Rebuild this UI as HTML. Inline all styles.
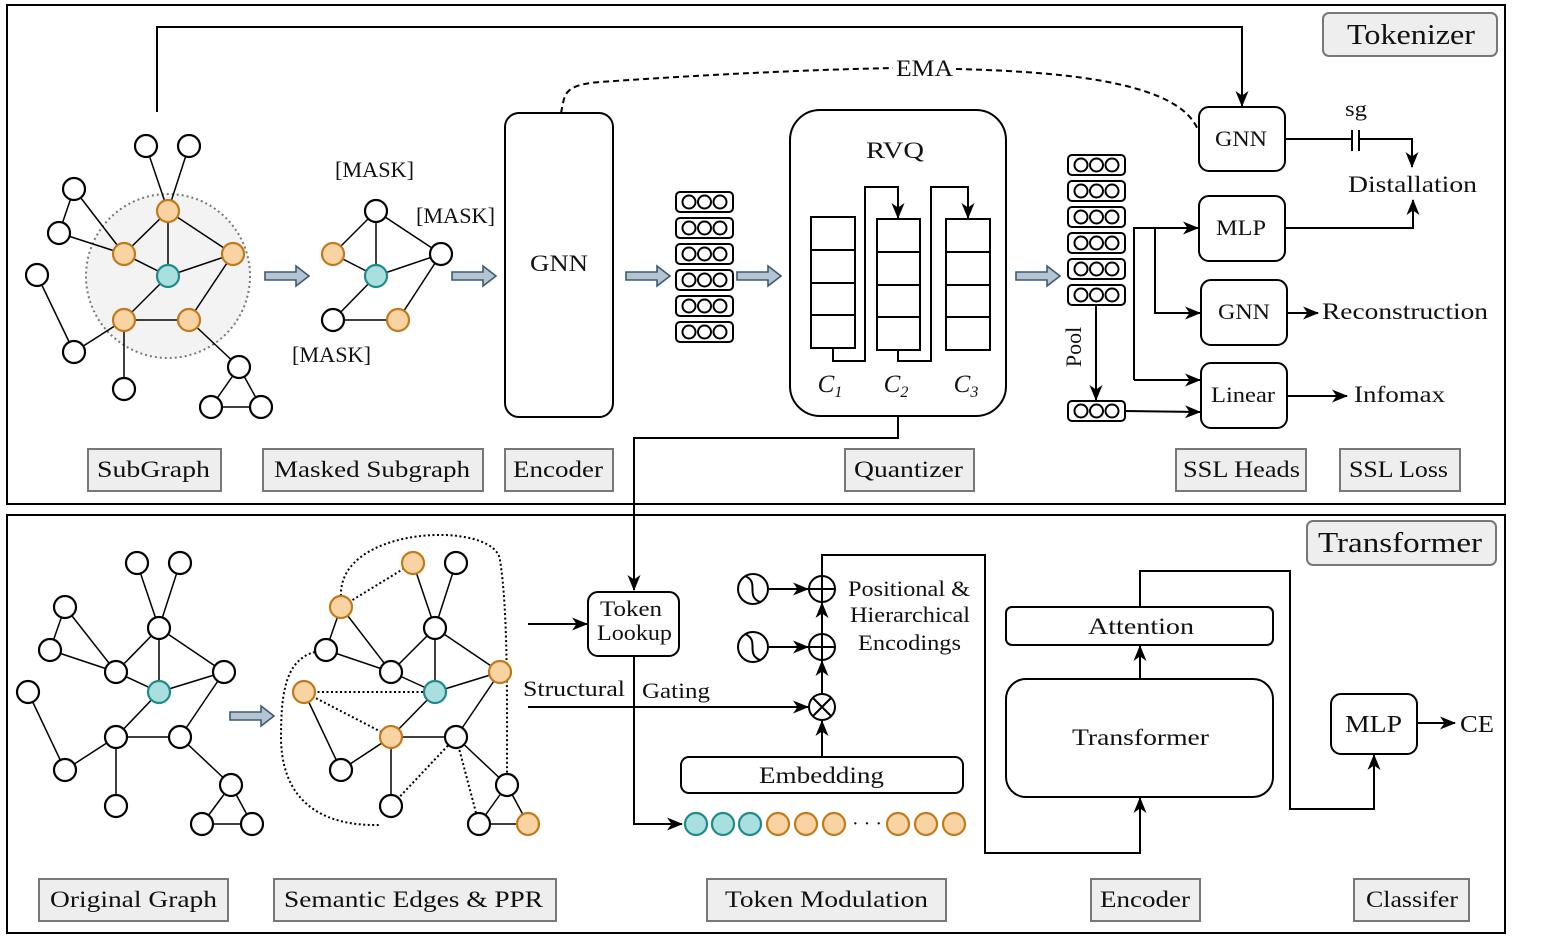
<!DOCTYPE html>
<html><head><meta charset="utf-8"><style>
html,body{margin:0;padding:0;background:#fff;}
svg{display:block;}
text{font-family:"Liberation Serif",serif;fill:#111;}
</style></head><body>
<svg width="1550" height="940" viewBox="0 0 1550 940" xmlns="http://www.w3.org/2000/svg">
<defs>
<marker id="ah" markerWidth="16" markerHeight="13" refX="15" refY="6.5" orient="auto" markerUnits="userSpaceOnUse">
<path d="M0,0 L16,6.5 L0,13 L4.5,6.5 Z" fill="#000"/></marker>
<path id="ha" d="M0,-4 L31,-4 L31,-10 L44,0 L31,10 L31,4 L0,4 Z" fill="#b3c5d3" stroke="#3d5a70" stroke-width="1.6"/>
<g id="vec"><rect x="0" y="0" width="57" height="20" rx="4" fill="#fff" stroke="#000" stroke-width="2"/>
<circle cx="13" cy="10" r="6.5" fill="none" stroke="#000" stroke-width="2"/><circle cx="28.5" cy="10" r="6.5" fill="none" stroke="#000" stroke-width="2"/><circle cx="44" cy="10" r="6.5" fill="none" stroke="#000" stroke-width="2"/></g>
</defs>

<rect x="7" y="5" width="1498" height="499" fill="none" stroke="#000" stroke-width="2"/>
<rect x="7" y="515" width="1498" height="418" fill="none" stroke="#000" stroke-width="2"/>

<rect x="1323" y="13" width="174" height="43" rx="6" fill="#eee" stroke="#777" stroke-width="2"/>
<text x="1347" y="44" font-size="28" textLength="128" lengthAdjust="spacingAndGlyphs">Tokenizer</text>

<path d="M157,112 L157,27 L1242,27 L1242,106" fill="none" stroke="#000" stroke-width="2" marker-end="url(#ah)"/>
<path d="M561,113 C565,95 562,85 600,82 C700,75 800,70 893,68 M956,69 C1080,72 1180,85 1198,130" fill="none" stroke="#000" stroke-width="2" stroke-dasharray="6,4"/>
<text x="896" y="76" font-size="23" textLength="57" lengthAdjust="spacingAndGlyphs">EMA</text>

<circle cx="168" cy="276" r="82" fill="#f3f3f3" stroke="#777" stroke-width="2" stroke-dasharray="2,3"/>
<g stroke="#000" stroke-width="1.5">
<line x1="146" y1="146" x2="168" y2="211"/><line x1="189" y1="146" x2="168" y2="211"/>
<line x1="74" y1="189" x2="59" y2="233"/><line x1="74" y1="189" x2="124" y2="254"/><line x1="59" y1="233" x2="124" y2="254"/>
<line x1="168" y1="211" x2="124" y2="254"/><line x1="168" y1="211" x2="168" y2="276"/><line x1="168" y1="211" x2="233" y2="254"/>
<line x1="124" y1="254" x2="168" y2="276"/><line x1="168" y1="276" x2="233" y2="254"/><line x1="168" y1="276" x2="124" y2="320"/>
<line x1="233" y1="254" x2="189" y2="320"/><line x1="124" y1="320" x2="189" y2="320"/>
<line x1="37" y1="275" x2="74" y2="352"/><line x1="74" y1="352" x2="124" y2="320"/><line x1="124" y1="320" x2="124" y2="389"/>
<line x1="189" y1="320" x2="239" y2="367"/><line x1="239" y1="367" x2="211" y2="407"/><line x1="239" y1="367" x2="261" y2="407"/><line x1="211" y1="407" x2="261" y2="407"/>
</g>
<g stroke="#000" stroke-width="2.2" fill="#fff">
<circle cx="146" cy="146" r="11"/><circle cx="189" cy="146" r="11"/><circle cx="74" cy="189" r="11"/><circle cx="59" cy="233" r="11"/>
<circle cx="37" cy="275" r="11"/><circle cx="74" cy="352" r="11"/><circle cx="124" cy="389" r="11"/><circle cx="239" cy="367" r="11"/>
<circle cx="211" cy="407" r="11"/><circle cx="261" cy="407" r="11"/>
</g>
<g stroke="#c07a1a" stroke-width="2.2" fill="#f9d3a3">
<circle cx="168" cy="211" r="11"/><circle cx="124" cy="254" r="11"/><circle cx="233" cy="254" r="11"/><circle cx="124" cy="320" r="11"/><circle cx="189" cy="320" r="11"/>
</g>
<circle cx="168" cy="276" r="11" fill="#a9dfdf" stroke="#1f8a8a" stroke-width="2.2"/>

<use href="#ha" transform="translate(265,276)"/>

<g stroke="#000" stroke-width="1.5">
<line x1="376" y1="211" x2="333" y2="254"/><line x1="376" y1="211" x2="376" y2="276"/><line x1="376" y1="211" x2="441" y2="254"/>
<line x1="333" y1="254" x2="376" y2="276"/><line x1="376" y1="276" x2="441" y2="254"/><line x1="376" y1="276" x2="333" y2="320"/>
<line x1="333" y1="320" x2="398" y2="320"/><line x1="398" y1="320" x2="441" y2="254"/>
</g>
<g stroke="#000" stroke-width="2.2" fill="#fff"><circle cx="376" cy="211" r="11"/><circle cx="441" cy="254" r="11"/><circle cx="333" cy="320" r="11"/></g>
<g stroke="#c07a1a" stroke-width="2.2" fill="#f9d3a3"><circle cx="333" cy="254" r="11"/><circle cx="398" cy="320" r="11"/></g>
<circle cx="376" cy="276" r="11" fill="#a9dfdf" stroke="#1f8a8a" stroke-width="2.2"/>
<text x="335" y="177" font-size="22" textLength="79" lengthAdjust="spacingAndGlyphs">[MASK]</text>
<text x="416" y="223" font-size="22" textLength="79" lengthAdjust="spacingAndGlyphs">[MASK]</text>
<text x="292" y="362" font-size="22" textLength="79" lengthAdjust="spacingAndGlyphs">[MASK]</text>

<use href="#ha" transform="translate(452,276)"/>

<rect x="505" y="113" width="108" height="304" rx="14" fill="#fff" stroke="#000" stroke-width="2"/>
<text x="530" y="271" font-size="23" textLength="58" lengthAdjust="spacingAndGlyphs">GNN</text>

<use href="#ha" transform="translate(626,276)"/>
<use href="#vec" x="676" y="192"/><use href="#vec" x="676" y="218"/><use href="#vec" x="676" y="244"/>
<use href="#vec" x="676" y="270"/><use href="#vec" x="676" y="296"/><use href="#vec" x="676" y="322"/>
<use href="#ha" transform="translate(737,276)"/>

<rect x="790" y="110" width="216" height="306" rx="30" fill="#fff" stroke="#000" stroke-width="2"/>
<text x="866" y="158" font-size="23" textLength="58" lengthAdjust="spacingAndGlyphs">RVQ</text>
<g fill="none" stroke="#000" stroke-width="2">
<rect x="811" y="217" width="44" height="131"/><line x1="811" y1="250" x2="855" y2="250"/><line x1="811" y1="283" x2="855" y2="283"/><line x1="811" y1="315" x2="855" y2="315"/>
<rect x="877" y="219" width="43" height="131"/><line x1="877" y1="252" x2="920" y2="252"/><line x1="877" y1="285" x2="920" y2="285"/><line x1="877" y1="317" x2="920" y2="317"/>
<rect x="946" y="219" width="44" height="131"/><line x1="946" y1="252" x2="990" y2="252"/><line x1="946" y1="285" x2="990" y2="285"/><line x1="946" y1="317" x2="990" y2="317"/>
<path d="M833,348 L833,361 L865,361 L865,187 L898,187 L898,218" marker-end="url(#ah)"/>
<path d="M898,350 L898,361 L931,361 L931,187 L968,187 L968,218" marker-end="url(#ah)"/>
</g>
<text x="830" y="392" font-size="25" font-style="italic" text-anchor="middle">C<tspan font-size="16" dy="5">1</tspan></text>
<text x="896" y="392" font-size="25" font-style="italic" text-anchor="middle">C<tspan font-size="16" dy="5">2</tspan></text>
<text x="966" y="392" font-size="25" font-style="italic" text-anchor="middle">C<tspan font-size="16" dy="5">3</tspan></text>
<path d="M898,416 L898,438 L634,438 L634,590" fill="none" stroke="#000" stroke-width="2" marker-end="url(#ah)"/>

<use href="#ha" transform="translate(1016,276)"/>
<use href="#vec" x="1068" y="155"/><use href="#vec" x="1068" y="181"/><use href="#vec" x="1068" y="207"/>
<use href="#vec" x="1068" y="233"/><use href="#vec" x="1068" y="259"/><use href="#vec" x="1068" y="285"/>
<use href="#vec" x="1068" y="401"/>
<path d="M1096,305 L1096,400" fill="none" stroke="#000" stroke-width="2" marker-end="url(#ah)"/>
<text x="0" y="0" font-size="22" text-anchor="middle" transform="translate(1081,347) rotate(-90)">Pool</text>

<g fill="#fff" stroke="#000" stroke-width="2">
<rect x="1199" y="107" width="86" height="64" rx="10"/>
<rect x="1199" y="196" width="86" height="65" rx="10"/>
<rect x="1201" y="280" width="86" height="65" rx="10"/>
<rect x="1201" y="363" width="86" height="65" rx="10"/>
</g>
<text x="1215" y="146" font-size="22" textLength="52" lengthAdjust="spacingAndGlyphs">GNN</text>
<text x="1216" y="235" font-size="22" textLength="50" lengthAdjust="spacingAndGlyphs">MLP</text>
<text x="1218" y="319" font-size="22" textLength="52" lengthAdjust="spacingAndGlyphs">GNN</text>
<text x="1211" y="402" font-size="22" textLength="64" lengthAdjust="spacingAndGlyphs">Linear</text>
<g fill="none" stroke="#000" stroke-width="2">
<path d="M1285,139 L1352,139 M1359,139 L1412,139 L1412,167" marker-end="url(#ah)"/>
<line x1="1352" y1="130" x2="1352" y2="151"/><line x1="1359" y1="130" x2="1359" y2="151"/>
<path d="M1285,228 L1413,228 L1413,200" marker-end="url(#ah)"/>
<path d="M1134,380 L1134,228 L1198,228" marker-end="url(#ah)"/>
<path d="M1155,228 L1155,313 L1200,313" marker-end="url(#ah)"/>
<path d="M1134,380 L1200,380" marker-end="url(#ah)"/>
<path d="M1125,411 L1200,412" marker-end="url(#ah)"/>
<path d="M1287,313 L1318,313" marker-end="url(#ah)"/>
<path d="M1287,396 L1347,396" marker-end="url(#ah)"/>
</g>
<text x="1345" y="116" font-size="22" textLength="22" lengthAdjust="spacingAndGlyphs">sg</text>
<text x="1348" y="192" font-size="23" textLength="129" lengthAdjust="spacingAndGlyphs">Distallation</text>
<text x="1322" y="319" font-size="23" textLength="166" lengthAdjust="spacingAndGlyphs">Reconstruction</text>
<text x="1354" y="402" font-size="23" textLength="91" lengthAdjust="spacingAndGlyphs">Infomax</text>

<g fill="#eee" stroke="#777" stroke-width="2">
<rect x="88" y="449" width="133" height="42"/><rect x="263" y="449" width="220" height="42"/>
<rect x="505" y="449" width="108" height="42"/><rect x="845" y="449" width="129" height="42"/>
<rect x="1176" y="449" width="130" height="42"/><rect x="1340" y="449" width="120" height="42"/>
</g>
<g font-size="23">
<text x="97" y="477" textLength="113" lengthAdjust="spacingAndGlyphs">SubGraph</text>
<text x="274" y="477" textLength="196" lengthAdjust="spacingAndGlyphs">Masked Subgraph</text>
<text x="513" y="477" textLength="90" lengthAdjust="spacingAndGlyphs">Encoder</text>
<text x="854" y="477" textLength="109" lengthAdjust="spacingAndGlyphs">Quantizer</text>
<text x="1183" y="477" textLength="117" lengthAdjust="spacingAndGlyphs">SSL Heads</text>
<text x="1349" y="477" textLength="99" lengthAdjust="spacingAndGlyphs">SSL Loss</text>
</g>

<rect x="1307" y="521" width="189" height="44" rx="6" fill="#eee" stroke="#777" stroke-width="2"/>
<text x="1318" y="552" font-size="28" textLength="164" lengthAdjust="spacingAndGlyphs">Transformer</text>

<g stroke="#000" stroke-width="1.5">
<line x1="137" y1="563" x2="159" y2="628"/><line x1="180" y1="563" x2="159" y2="628"/>
<line x1="65" y1="607" x2="50" y2="650"/><line x1="65" y1="607" x2="116" y2="672"/><line x1="50" y1="650" x2="116" y2="672"/>
<line x1="159" y1="628" x2="116" y2="672"/><line x1="159" y1="628" x2="159" y2="692"/><line x1="159" y1="628" x2="224" y2="672"/>
<line x1="116" y1="672" x2="159" y2="692"/><line x1="159" y1="692" x2="224" y2="672"/><line x1="159" y1="692" x2="116" y2="737"/>
<line x1="116" y1="737" x2="180" y2="737"/><line x1="180" y1="737" x2="224" y2="672"/>
<line x1="28" y1="692" x2="65" y2="770"/><line x1="65" y1="770" x2="116" y2="737"/><line x1="116" y1="737" x2="116" y2="806"/>
<line x1="180" y1="737" x2="231" y2="785"/><line x1="231" y1="785" x2="202" y2="824"/><line x1="231" y1="785" x2="252" y2="824"/><line x1="202" y1="824" x2="252" y2="824"/>
</g>
<g stroke="#000" stroke-width="2.2" fill="#fff">
<circle cx="137" cy="563" r="11"/><circle cx="180" cy="563" r="11"/><circle cx="65" cy="607" r="11"/><circle cx="50" cy="650" r="11"/>
<circle cx="159" cy="628" r="11"/><circle cx="116" cy="672" r="11"/><circle cx="224" cy="672" r="11"/><circle cx="28" cy="692" r="11"/>
<circle cx="116" cy="737" r="11"/><circle cx="180" cy="737" r="11"/><circle cx="65" cy="770" r="11"/><circle cx="116" cy="806" r="11"/>
<circle cx="231" cy="785" r="11"/><circle cx="202" cy="824" r="11"/><circle cx="252" cy="824" r="11"/>
</g>
<circle cx="159" cy="692" r="11" fill="#a9dfdf" stroke="#1f8a8a" stroke-width="2.2"/>

<use href="#ha" transform="translate(230,716)"/>

<g fill="none" stroke="#000" stroke-width="2" stroke-dasharray="2,2.5">
<path d="M341,596 C338,525 495,520 500,560 C508,610 507,700 507,773"/>
<path d="M315,652 C283,660 281,700 281,740 C283,815 340,826 380,825"/>
<line x1="341" y1="607" x2="413" y2="563"/>
<line x1="304" y1="692" x2="435" y2="692"/>
<line x1="304" y1="692" x2="391" y2="737"/>
<line x1="391" y1="806" x2="456" y2="737"/>
<line x1="456" y1="737" x2="479" y2="824"/>
</g>
<g stroke="#000" stroke-width="1.5">
<line x1="413" y1="563" x2="435" y2="628"/><line x1="456" y1="563" x2="435" y2="628"/>
<line x1="341" y1="607" x2="326" y2="650"/><line x1="341" y1="607" x2="391" y2="672"/><line x1="326" y1="650" x2="391" y2="672"/>
<line x1="435" y1="628" x2="391" y2="672"/><line x1="435" y1="628" x2="435" y2="692"/><line x1="435" y1="628" x2="500" y2="672"/>
<line x1="391" y1="672" x2="435" y2="692"/><line x1="435" y1="692" x2="500" y2="672"/><line x1="435" y1="692" x2="391" y2="737"/>
<line x1="391" y1="737" x2="456" y2="737"/><line x1="456" y1="737" x2="500" y2="672"/>
<line x1="304" y1="692" x2="341" y2="770"/><line x1="341" y1="770" x2="391" y2="737"/><line x1="391" y1="737" x2="391" y2="806"/>
<line x1="456" y1="737" x2="507" y2="785"/><line x1="507" y1="785" x2="479" y2="824"/><line x1="507" y1="785" x2="528" y2="824"/><line x1="479" y1="824" x2="528" y2="824"/>
</g>
<g stroke="#000" stroke-width="2.2" fill="#fff">
<circle cx="456" cy="563" r="11"/><circle cx="326" cy="650" r="11"/><circle cx="435" cy="628" r="11"/><circle cx="391" cy="672" r="11"/>
<circle cx="456" cy="737" r="11"/><circle cx="341" cy="770" r="11"/><circle cx="391" cy="806" r="11"/><circle cx="507" cy="785" r="11"/><circle cx="479" cy="824" r="11"/>
</g>
<g stroke="#c07a1a" stroke-width="2.2" fill="#f9d3a3">
<circle cx="413" cy="563" r="11"/><circle cx="341" cy="607" r="11"/><circle cx="500" cy="672" r="11"/><circle cx="304" cy="692" r="11"/>
<circle cx="391" cy="737" r="11"/><circle cx="528" cy="824" r="11"/>
</g>
<circle cx="435" cy="692" r="11" fill="#a9dfdf" stroke="#1f8a8a" stroke-width="2.2"/>

<rect x="588" y="592" width="91" height="64" rx="10" fill="#fff" stroke="#000" stroke-width="2"/>
<text x="600" y="616" font-size="22" textLength="62" lengthAdjust="spacingAndGlyphs">Token</text>
<text x="597" y="640" font-size="22" textLength="75" lengthAdjust="spacingAndGlyphs">Lookup</text>
<g fill="none" stroke="#000" stroke-width="2">
<path d="M528,624 L587,624" marker-end="url(#ah)"/>
<path d="M634,656 L634,824 L682,824" marker-end="url(#ah)"/>
<path d="M528,707 L808,707" marker-end="url(#ah)"/>
<path d="M769,589 L808,589" marker-end="url(#ah)"/>
<path d="M769,647 L808,647" marker-end="url(#ah)"/>
<path d="M822,694 L822,661" marker-end="url(#ah)"/>
<path d="M822,634 L822,603" marker-end="url(#ah)"/>
<path d="M822,757 L822,721" marker-end="url(#ah)"/>
<circle cx="753" cy="589" r="15"/><circle cx="753" cy="647" r="15"/>
<path d="M745,576 C760,582 745,596 760,602"/><path d="M745,634 C760,640 745,654 760,660"/>
<circle cx="822" cy="589" r="13"/><line x1="809" y1="589" x2="835" y2="589"/><line x1="822" y1="576" x2="822" y2="602"/>
<circle cx="822" cy="647" r="13"/><line x1="809" y1="647" x2="835" y2="647"/><line x1="822" y1="634" x2="822" y2="660"/>
<circle cx="822" cy="707" r="13"/><line x1="813" y1="698" x2="831" y2="716"/><line x1="831" y1="698" x2="813" y2="716"/>
<path d="M822,576 L822,555 L985,555 L985,853 L1140,853 L1140,798" marker-end="url(#ah)"/>
</g>
<text x="523" y="696" font-size="22" textLength="102" lengthAdjust="spacingAndGlyphs">Structural</text>
<text x="642" y="698" font-size="22" textLength="68" lengthAdjust="spacingAndGlyphs">Gating</text>
<text x="848" y="596" font-size="22" textLength="122" lengthAdjust="spacingAndGlyphs">Positional &amp;</text>
<text x="850" y="622" font-size="22" textLength="120" lengthAdjust="spacingAndGlyphs">Hierarchical</text>
<text x="858" y="650" font-size="22" textLength="103" lengthAdjust="spacingAndGlyphs">Encodings</text>
<rect x="681" y="757" width="282" height="36" rx="8" fill="#fff" stroke="#000" stroke-width="2"/>
<text x="759" y="783" font-size="23" textLength="125" lengthAdjust="spacingAndGlyphs">Embedding</text>
<g stroke="#1f8a8a" stroke-width="2.2" fill="#a9dfdf"><circle cx="696" cy="824" r="11"/><circle cx="723" cy="824" r="11"/><circle cx="750" cy="824" r="11"/></g>
<g stroke="#c07a1a" stroke-width="2.2" fill="#f9d3a3"><circle cx="778" cy="824" r="11"/><circle cx="806" cy="824" r="11"/><circle cx="834" cy="824" r="11"/>
<circle cx="898" cy="824" r="11"/><circle cx="926" cy="824" r="11"/><circle cx="954" cy="824" r="11"/></g>
<text x="867" y="830" font-size="20" text-anchor="middle">· · ·</text>

<rect x="1006" y="607" width="267" height="38" rx="6" fill="#fff" stroke="#000" stroke-width="2"/>
<text x="1088" y="634" font-size="23" textLength="106" lengthAdjust="spacingAndGlyphs">Attention</text>
<rect x="1006" y="679" width="267" height="118" rx="20" fill="#fff" stroke="#000" stroke-width="2"/>
<text x="1072" y="745" font-size="23" textLength="137" lengthAdjust="spacingAndGlyphs">Transformer</text>
<g fill="none" stroke="#000" stroke-width="2">
<path d="M1140,679 L1140,646" marker-end="url(#ah)"/>
<path d="M1140,607 L1140,571 L1290,571 L1290,809 L1374,809 L1374,755" marker-end="url(#ah)"/>
<path d="M1417,723 L1455,723" marker-end="url(#ah)"/>
</g>
<rect x="1331" y="694" width="86" height="60" rx="10" fill="#fff" stroke="#000" stroke-width="2"/>
<text x="1345" y="732" font-size="24" textLength="57" lengthAdjust="spacingAndGlyphs">MLP</text>
<text x="1460" y="732" font-size="24" textLength="34" lengthAdjust="spacingAndGlyphs">CE</text>

<g fill="#eee" stroke="#777" stroke-width="2">
<rect x="39" y="879" width="189" height="42"/><rect x="274" y="879" width="282" height="42"/>
<rect x="707" y="879" width="239" height="42"/><rect x="1091" y="879" width="109" height="42"/>
<rect x="1354" y="879" width="115" height="42"/>
</g>
<g font-size="23">
<text x="50" y="907" textLength="167" lengthAdjust="spacingAndGlyphs">Original Graph</text>
<text x="284" y="907" textLength="259" lengthAdjust="spacingAndGlyphs">Semantic Edges &amp; PPR</text>
<text x="725" y="907" textLength="203" lengthAdjust="spacingAndGlyphs">Token Modulation</text>
<text x="1100" y="907" textLength="90" lengthAdjust="spacingAndGlyphs">Encoder</text>
<text x="1366" y="907" textLength="92" lengthAdjust="spacingAndGlyphs">Classifer</text>
</g>
</svg>
</body></html>
